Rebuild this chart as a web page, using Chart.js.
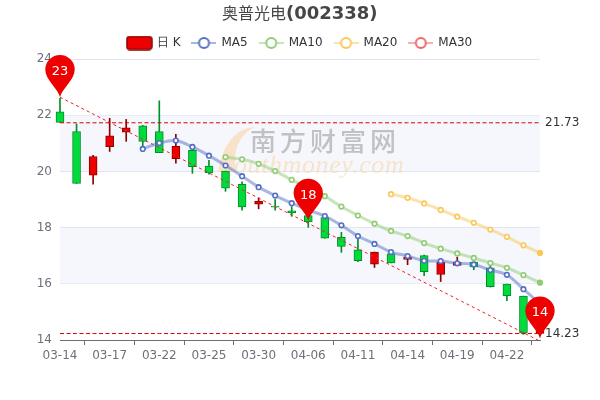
<!DOCTYPE html>
<html><head><meta charset="utf-8">
<style>html,body{margin:0;padding:0;background:#fff}#w{width:600px;height:400px;position:relative}</style>
<script src="https://cdn.jsdelivr.net/npm/chart.js@4"></script></head>
<body><div id="w"><canvas id="c" width="600" height="400"></canvas></div>
<script>
const dates=['03-14','03-15','03-16','03-17','03-18','03-21','03-22','03-23','03-24','03-25','03-28','03-29','03-30','03-31','04-01','04-06','04-07','04-08','04-11','04-12','04-13','04-14','04-15','04-18','04-19','04-20','04-21','04-22','04-25','04-26'];
const opens=[22.12,21.42,19.87,20.88,21.40,21.62,21.42,20.45,20.75,20.19,20.01,19.54,18.83,18.76,18.60,18.43,18.36,17.65,17.21,16.70,17.07,16.87,17.00,16.33,16.65,16.77,16.56,15.99,15.56,14.23];
const closes=[21.74,19.57,20.53,21.27,21.55,21.07,20.67,20.89,20.17,19.95,19.40,18.74,18.94,18.73,18.52,18.20,17.62,17.33,16.82,17.13,16.74,16.95,16.43,16.76,16.76,16.60,15.90,15.58,14.24,14.55];
const highs=[22.60,21.69,20.57,21.89,21.85,21.64,22.51,21.32,20.79,20.39,20.01,19.63,19.06,19.00,18.75,18.45,18.36,17.83,17.60,17.13,17.09,17.05,17.02,16.90,16.95,16.77,16.70,15.99,15.56,14.60];
const lows=[21.74,19.57,19.55,20.71,21.07,20.90,20.67,20.29,19.93,19.90,19.29,18.62,18.67,18.62,18.40,18.01,17.62,17.12,16.79,16.58,16.74,16.68,16.29,16.08,16.65,16.50,15.88,15.40,14.20,14.15];
const ma5=[null,null,null,null,null,20.80,21.01,21.10,20.87,20.56,20.21,19.83,19.44,19.14,18.87,18.62,18.41,18.08,17.70,17.42,17.13,16.99,16.82,16.81,16.73,16.69,16.49,16.32,15.81,15.30];
const ma10=[null,null,null,null,null,null,null,null,null,null,20.51,20.43,20.27,20.01,19.70,19.42,19.12,18.75,18.43,18.14,17.88,17.70,17.45,17.25,17.08,16.92,16.74,16.57,16.31,16.04];
const ma20=[null,null,null,null,null,null,null,null,null,null,null,null,null,null,null,null,null,null,null,null,19.19,19.06,18.86,18.63,18.39,18.17,17.93,17.67,17.37,17.10];
const ma30=dates.map(()=>null);
const refHigh=21.73, refLow=14.23;
const trendStart=22.64, trendEnd=13.96;
const pinIndex=[0,15,29], pinValue=[22.64,18.24,14.05], pinText=['23','18','14'];
const titleCn='奥普光电', titleCode='(002338)';
const legendNames=['日 K','MA5','MA10','MA20','MA30'];
const yTicksStep=2, yMin=14, yMax=24;

const UP='#ee0000',UPB='#8a0000',DN='#00da3c',DNB='#008f28';
const isUp=i=>closes[i]>=opens[i];
const bodyData=dates.map((_,i)=>[opens[i],closes[i]]);
const wickData=dates.map((_,i)=>[lows[i],highs[i]]);
const C5='#5470c6',C10='#91cc75',C20='#fac858',C30='#ee6666';
function icon(c){const k=document.createElement('canvas');k.width=25;k.height=14;const x=k.getContext('2d');
 x.strokeStyle=c;x.globalAlpha=.5;x.lineWidth=2;x.beginPath();x.moveTo(0,7);x.lineTo(25,7);x.stroke();x.globalAlpha=1;
 x.fillStyle='#fff';x.lineWidth=2;x.beginPath();x.arc(12.5,7,5,0,7);x.fill();x.stroke();return k;}
function candleIcon(){const k=document.createElement('canvas');k.width=27;k.height=15;const x=k.getContext('2d');
 x.fillStyle=UP;x.strokeStyle=UPB;x.lineWidth=1.5;x.beginPath();x.roundRect(1,1,25,13,3);x.fill();x.stroke();return k;}
function ma(label,data,c){return {type:'line',label,data,borderColor:c+'80',borderWidth:3,tension:.3,spanGaps:false,clip:false,order:2,yAxisID:'y',
 pointRadius:2.3,pointHoverRadius:2.3,pointBorderColor:c,pointBorderWidth:1.6,
 pointBackgroundColor:ct=>ct.dataIndex===dates.length-1?c:'#ffffff'};}
function refLine(v){return {type:'line',data:dates.map(()=>v),borderColor:'#d80000',borderWidth:1,borderDash:[4,2.5],pointRadius:0,clip:false,order:3};}

const backdrop={id:'backdrop',beforeDatasetsDraw(ch){
 const {ctx,chartArea:a,scales:{y}}=ch;ctx.save();
 ctx.fillStyle='#f5f7fc';
 [[22,20],[18,16]].forEach(([t,b])=>ctx.fillRect(a.left,y.getPixelForValue(t)+.5,a.width,y.getPixelForValue(b)-y.getPixelForValue(t)-1));
 ctx.fillStyle='rgba(250,214,168,.6)';ctx.beginPath();
 ctx.moveTo(255,127);ctx.bezierCurveTo(232,128,222,150,218,172);ctx.lineTo(236,172);ctx.bezierCurveTo(232,150,240,134,255,127);ctx.fill();
 ctx.font='italic 26px "Liberation Serif"';ctx.fillStyle='rgba(250,214,168,.6)';ctx.textAlign='left';ctx.textBaseline='alphabetic';
 ctx.letterSpacing='.6px';ctx.fillText('outhmoney.com',234,173);
 ctx.font='500 26px "Noto Sans CJK SC"';ctx.fillStyle='rgba(140,140,140,.5)';ctx.letterSpacing='4px';ctx.fillText('南方财富网',250,151);
 ctx.letterSpacing='0px';ctx.restore();}};
const overlay={id:'overlay',afterDatasetsDraw(ch){
 const {ctx,scales:{x,y}}=ch;ctx.save();
 ctx.textBaseline='alphabetic';ctx.textAlign='left';
 ctx.font='16px "Noto Sans CJK SC"';ctx.fillStyle='#464646';ctx.fillText(titleCn,222,19);
 ctx.font='bold 18px "DejaVu Sans"';ctx.fillText(titleCode,286,19);
 pinIndex.forEach((ix,k)=>{const px=x.getPixelForValue(ix),py=y.getPixelForValue(pinValue[k]);
  const r=14.7,cy=py-27.5;
  ctx.fillStyle='#ee0000';ctx.beginPath();
  ctx.moveTo(px,py);
  ctx.bezierCurveTo(px-1.5,py-8,px-r,cy+10,px-r,cy);
  ctx.arc(px,cy,r,Math.PI,0);
  ctx.bezierCurveTo(px+r,cy+10,px+1.5,py-8,px,py);ctx.fill();
  ctx.fillStyle='#fff';ctx.font='13px "DejaVu Sans"';ctx.textAlign='center';ctx.textBaseline='middle';
  ctx.fillText(pinText[k],px,cy+2);ctx.textAlign='left';});
 ctx.restore();}};

new Chart(document.getElementById('c'),{
 data:{labels:dates,datasets:[
  ma('MA5',ma5,C5),ma('MA10',ma10,C10),ma('MA20',ma20,C20),ma('MA30',ma30,C30),
  refLine(refHigh),refLine(refLow),
  {type:'line',data:dates.map((_,i)=>i===0?trendStart:i===dates.length-1?trendEnd:null),spanGaps:true,borderColor:'#ee2222',borderWidth:1,borderDash:[3,3],pointRadius:0,clip:false,order:3},
  {type:'bar',label:'日 K',data:bodyData,grouped:false,barThickness:8,borderWidth:1,borderSkipped:false,clip:false,order:5,
   backgroundColor:dates.map((_,i)=>isUp(i)?UP:DN),borderColor:dates.map((_,i)=>isUp(i)?UPB:DNB)},
  {type:'bar',data:wickData,grouped:false,barThickness:1,borderWidth:0,clip:false,order:6,
   backgroundColor:dates.map((_,i)=>isUp(i)?UPB:DNB)}
 ]},
 options:{responsive:false,animation:false,events:[],
  layout:{padding:{top:25,right:0,bottom:0,left:0}},
  plugins:{tooltip:{enabled:false},title:{display:false},
   legend:{display:true,position:'top',labels:{usePointStyle:true,pointStyleWidth:23,boxHeight:12,padding:12,color:'#333',font:{family:'"DejaVu Sans"',size:12},
    generateLabels:()=>legendNames.map((n,i)=>({text:n,pointStyle:i===0?candleIcon():icon([C5,C10,C20,C30][i-1]),fontColor:'#333',hidden:false,lineWidth:0,strokeStyle:'transparent',fillStyle:'transparent'}))}}},
  scales:{
   x:{type:'category',offset:false,
    grid:{drawOnChartArea:false,drawTicks:true,tickLength:5,tickColor:'#6e7079'},border:{color:'#6e7079'},
    afterBuildTicks(s){s.ticks=s.ticks.filter(t=>t.value%3===0);},
    afterFit(s){s.height=60;},
    ticks:{autoSkip:false,maxRotation:0,color:'#6e7079',padding:4,font:{family:'"DejaVu Sans"',size:12},callback(v){return dates[v];}}},
   y:{min:yMin,max:yMax,afterFit(s){s.width=60;},
    grid:{color:'#e0e6f1',drawTicks:false},border:{display:false},
    ticks:{stepSize:yTicksStep,color:'#6e7079',padding:8,font:{family:'"DejaVu Sans"',size:12}}},
   y2:{position:'right',min:yMin,max:yMax,afterFit(s){s.width=60;},
    afterBuildTicks(s){s.ticks=[{value:refHigh},{value:refLow}];},
    grid:{display:false,drawTicks:false},border:{display:false},
    ticks:{color:'#333',padding:5,autoSkip:false,font:{family:'"DejaVu Sans"',size:12},callback(v){return Number(v).toFixed(2);}}}}
 },plugins:[backdrop,overlay]});
</script></body></html>
